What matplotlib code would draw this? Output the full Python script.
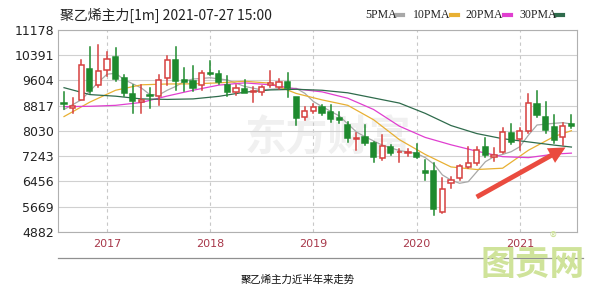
import numpy as np
import pandas as pd
import matplotlib
matplotlib.use("Agg")
import matplotlib.pyplot as plt
from matplotlib.patches import Rectangle

plt.rcParams['font.family'] = ['Noto Sans CJK SC', 'DejaVu Sans']

# monthly candles, 2016-08 .. 2021-07
months = pd.period_range("2016-08", "2021-07", freq="M")
opens = [8900, 8740, 9005, 9960, 9473, 9922, 10327, 9682, 9193, 8940,
         9160, 9111, 9682, 10252, 9630, 9580, 9454, 9840, 9816, 9454,
         9255, 9330, 9236, 9255, 9473, 9412, 9567, 9080, 8475, 8662,
         8770, 8632, 8426, 8217, 7780, 7852, 7665, 7179, 7521, 7360,
         7334, 7334, 6783, 6793, 5515, 6400, 6556, 6918, 7043, 7540,
         7230, 7365, 7978, 7780, 8040, 8872, 8475, 8145, 7852, 8240]
closes = [8860, 8800, 10078, 9270, 9891, 10274, 9651, 9214, 8956, 8990,
          9110, 9629, 10252, 9580, 9560, 9370, 9838, 9810, 9557, 9245,
          9360, 9224, 9286, 9392, 9517, 9567, 9360, 8426, 8662, 8787,
          8582, 8395, 8373, 7802, 7820, 7665, 7210, 7562, 7334, 7390,
          7385, 7210, 6730, 5590, 6213, 6515, 6939, 7043, 7438, 7282,
          7282, 7990, 7700, 8030, 8912, 8530, 8062, 7750, 8186, 8196]
highs = [9250, 9060, 10230, 10648, 10720, 10492, 10617, 9784, 9473, 9460,
         9370, 9785, 10358, 10639, 9994, 10045, 9910, 10221, 9890, 9735,
         9464, 9620, 9412, 9433, 9910, 9640, 9848, 9100, 8767, 8870,
         8840, 8840, 8630, 8320, 7958, 8217, 7700, 7906, 7594, 7460,
         7460, 7625, 7126, 7020, 6556, 6605, 6970, 7540, 7540, 7800,
         7490, 8115, 8248, 8115, 9183, 9286, 8925, 8530, 8270, 8530]
lows = [8720, 8590, 8990, 9214, 9392, 9744, 9579, 9112, 8584, 8590,
        8750, 8850, 9473, 9318, 9267, 9267, 9318, 9785, 9495, 9112,
        9152, 9205, 8943, 9152, 9412, 9330, 9100, 8217, 8373, 8580,
        8530, 8320, 8270, 7700, 7438, 7594, 7073, 7126, 7282, 7073,
        7250, 7180, 6500, 5412, 5465, 6243, 6500, 6865, 6970, 7230,
        7105, 7335, 7625, 7438, 7958, 8475, 7958, 7650, 7594, 8115]

# moving averages (month index, value)
ma5_idx = [0, 2, 4, 5, 6, 7, 9, 10, 11, 12, 13, 14, 15, 17, 19, 21, 23, 25, 27, 28,
           29, 30, 32, 34, 35, 37, 39, 41, 42, 43, 44, 45, 46, 47, 48, 49, 50, 51,
           52, 53, 54, 55, 57, 58, 59]
ma5 = [8700, 9000, 9550, 9800, 9830, 9630, 9370, 9160, 9150, 9300, 9420, 9580, 9650,
       9690, 9620, 9420, 9310, 9350, 9360, 9205, 8950, 8790, 8500, 8000, 7850, 7590,
       7420, 7330, 7200, 7000, 6660, 6500, 6400, 6450, 6760, 7073, 7230, 7300, 7385,
       7540, 7900, 8217, 8270, 8290, 8248]
ma_idx = [0, 3, 6, 9, 12, 15, 18, 21, 24, 27, 30, 33, 36, 39, 42, 45, 48, 51, 54, 57, 59]
ma10 = [8480, 8930, 9300, 9470, 9495, 9500, 9530, 9580, 9520, 9200, 9000, 8830, 8380,
        7760, 7300, 6910, 6830, 6870, 7430, 7860, 8040]
ma20 = [8790, 8800, 8830, 8920, 9120, 9300, 9460, 9530, 9470, 9340, 9250, 9050, 8700,
        8180, 7830, 7600, 7400, 7230, 7200, 7310, 7340]
ma30 = [9380, 9165, 9115, 9030, 9015, 9030, 9110, 9240, 9310, 9330, 9300, 9220, 9060,
        8900, 8580, 8200, 7950, 7790, 7690, 7590, 7530]

yticks = [4882, 5669, 6456, 7243, 8030, 8817, 9604, 10391, 11178]
years = ["2017", "2018", "2019", "2020", "2021"]

red = "#d6403f"
green = "#1e8a2e"

fig = plt.figure(figsize=(5.98, 2.9), dpi=100)
ax = fig.add_axes([58/598, 1-232/290, (577-58)/598, (232-30)/290])

x = np.arange(len(months))
w = 0.6
for i in x:
    o, c, h, l = opens[i], closes[i], highs[i], lows[i]
    up = c >= o
    col = red if up else green
    lo, hi = min(o, c), max(o, c)
    ax.plot([i, i], [hi, h], color=col, lw=1.1, zorder=3)
    ax.plot([i, i], [l, lo], color=col, lw=1.1, zorder=3)
    if hi - lo < 25:
        ax.plot([i-w/2, i+w/2], [o, o], color=col, lw=1.3, zorder=4)
    else:
        ax.add_patch(Rectangle((i-w/2, lo), w, hi-lo, facecolor="white" if up else col,
                               edgecolor=col, lw=1.1, zorder=4))

ax.plot(ma5_idx, ma5, color="#a8a8a8", lw=0.9, zorder=2)
ax.plot(ma_idx, ma10, color="#e8b033", lw=0.9, zorder=2)
ax.plot(ma_idx, ma20, color="#e03fd0", lw=0.9, zorder=2)
ax.plot(ma_idx, ma30, color="#2f6b4c", lw=0.9, zorder=2)

ax.set_xlim(-0.7, 59.65)
ax.set_ylim(4882, 11178)
ax.set_yticks(yticks)
ax.set_yticklabels([str(v) for v in yticks], fontsize=9, color="#222222",
                   family="DejaVu Sans")
jan = [i for i, m in enumerate(months) if m.month == 1]
ax.set_xticks(jan)
ax.set_xticklabels(years, fontsize=8, color="#a8384a", family="DejaVu Sans")
ax.tick_params(length=0, pad=3)
ax.tick_params(axis="x", pad=5)
ax.grid(axis="y", color="#d0d0d0", lw=0.8)
for j in jan:
    ax.axvline(j, color="#c8c8c8", lw=0.8, ls=(0, (3, 3)), zorder=1)
for s in ax.spines.values():
    s.set_color("#b0b0b0")
    s.set_linewidth(0.8)

# faint watermark in the plot
ax.text(0.52, 0.47, "东方财富", transform=ax.transAxes, fontsize=30, color="#f0f0f0",
        fontweight="bold", ha="center", va="center", zorder=0)

# red arrow
ax.annotate("", xy=(58.6, 7560), xytext=(47.7, 5930),
            arrowprops=dict(arrowstyle="simple,head_length=1.2,head_width=1.2,tail_width=0.35",
                            color="#ea4b3f", lw=0), zorder=6)

fig.text(60/598, 1-15/290, "聚乙烯主力[1m] 2021-07-27 15:00", fontsize=10,
         color="#222222", va="center")
# legend: label, colour, text x, swatch x (pixels)
leg = [("5PMA", "#a8a8a8", 365, 396), ("10PMA", "#e8b033", 413, 451),
       ("20PMA", "#e03fd0", 466, 504), ("30PMA", "#2f6b4c", 519, 556)]
for name, col, xp, sx in leg:
    fig.text(xp/598, 1-15/290, name, fontsize=8.5, color="#222222", va="center",
             family="Liberation Serif")
    fig.lines.append(plt.Line2D([sx/598, (sx+7)/598], [1-15/290, 1-15/290],
                                color=col, lw=3, transform=fig.transFigure))

fig.lines.append(plt.Line2D([58/598, 583/598], [1-258/290, 1-258/290],
                            color="#909090", lw=0.9, transform=fig.transFigure))
fig.text(298/598, 1-280/290, "聚乙烯主力近半年来走势", fontsize=7.5, color="#111111",
         ha="center", va="center")
fig.text(533/598, 1-265/290, "图贡网", fontsize=25, color="#cfe39a", ha="center",
         va="center", fontweight="bold")
fig.text(553/598, 1-239/290, "®", fontsize=10, color="#cfe39a", ha="center", va="center")

fig.savefig("out.png", dpi=100, facecolor="white")
